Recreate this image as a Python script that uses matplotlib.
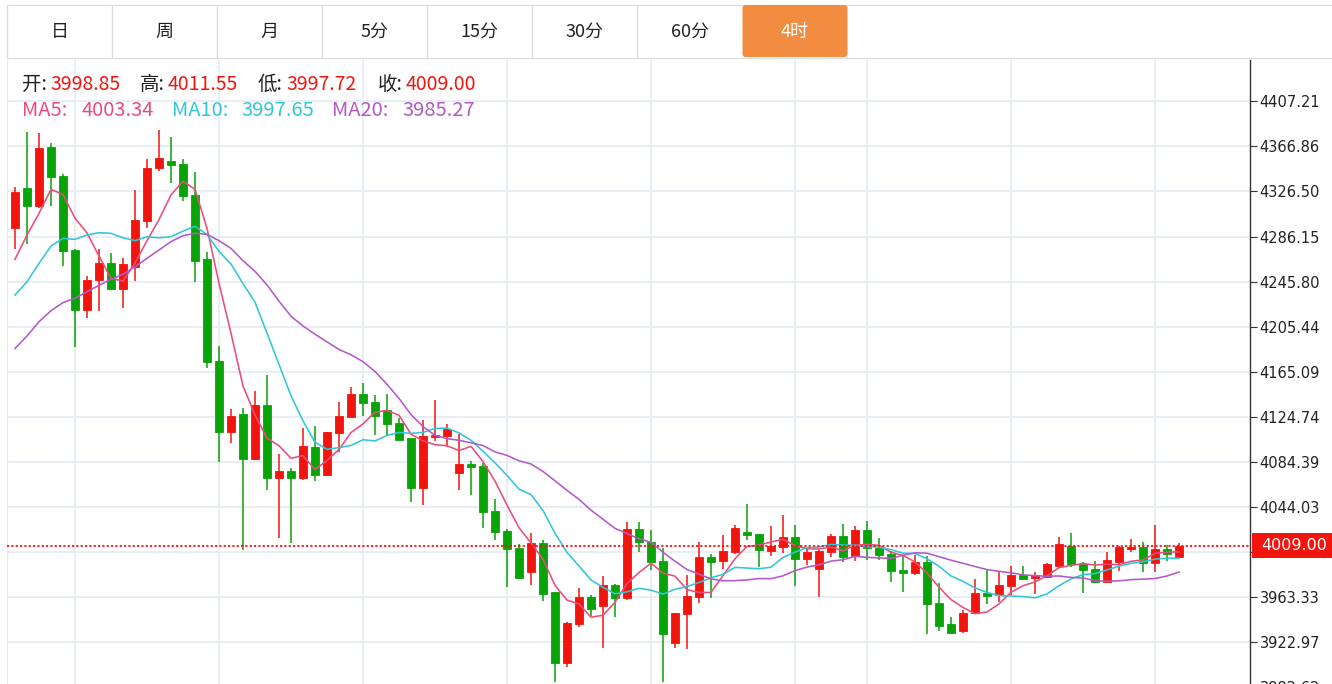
import matplotlib

matplotlib.use("Agg")
import matplotlib.pyplot as plt  # noqa: E402
import numpy as np  # noqa: E402
import pandas as pd  # noqa: E402
from matplotlib.patches import Rectangle, FancyBboxPatch  # noqa: E402

CJK = ["Noto Sans CJK SC", "DejaVu Sans"]

# period buttons (last one selected)
periods = ["日", "周", "月", "5分", "15分", "30分", "60分", "4时"]
selected = "4时"

# 4h candles
opens = [4293.5, 4329.3, 4313.5, 4366.1, 4340.4, 4274.0, 4220.3, 4247.2, 4262.7, 4239.4,
         4259.1, 4300.3, 4347.2, 4354.1, 4351.1, 4323.3, 4265.7, 4174.6, 4110.7, 4126.8,
         4086.8, 4135.2, 4069.5, 4076.3, 4069.5, 4097.5, 4072.5, 4110.4, 4124.1, 4145.3,
         4137.9, 4130.7, 4119.4, 4105.3, 4060.5, 4106.2, 4107.4, 4074.0, 4082.3, 4080.5,
         4040.5, 4022.6, 4006.8, 3985.9, 4011.8, 3967.3, 3903.7, 3938.6, 3962.9, 3955.1,
         3973.9, 3961.9, 4024.1, 4012.7, 3995.4, 3922.2, 3947.6, 3963.5, 3999.3, 3995.4,
         4003.8, 4021.7, 4019.3, 4004.7, 4008.3, 4016.6, 3997.2, 3987.9, 4003.8, 4018.1,
         3999.9, 4023.2, 4006.8, 4001.7, 3987.3, 3984.4, 3994.2, 3957.5, 3938.6, 3933.0,
         3948.5, 3966.4, 3964.9, 3973.3, 3982.9, 3979.9, 3981.4, 3990.9, 4009.1, 3992.7,
         3988.2, 3976.9, 3994.8, 4006.2, 4008.3, 3993.3, 4005.9, 3998.85]
highs = [4330.8, 4379.5, 4378.6, 4369.6, 4342.2, 4274.7, 4250.8, 4274.7, 4271.7, 4266.6,
         4327.8, 4355.6, 4381.6, 4375.6, 4355.6, 4344.3, 4272.6, 4188.3, 4131.3, 4132.8,
         4147.7, 4162.1, 4091.3, 4078.4, 4114.3, 4116.4, 4110.7, 4138.2, 4151.3, 4155.2,
         4144.1, 4145.0, 4123.2, 4105.3, 4121.7, 4139.7, 4118.2, 4109.2, 4085.0, 4082.9,
         4050.7, 4024.1, 4010.6, 4020.8, 4014.2, 3967.9, 3941.0, 3970.9, 3965.0, 3982.3,
         3974.5, 4030.1, 4030.1, 4023.2, 4006.8, 3948.5, 3982.9, 4012.1, 4001.7, 4018.7,
         4027.7, 4046.5, 4019.3, 4026.8, 4036.6, 4027.7, 4006.8, 4005.3, 4019.3, 4028.6,
         4026.8, 4031.3, 4015.7, 4004.7, 3999.9, 4000.8, 4000.2, 3975.4, 3944.9, 3951.5,
         3979.3, 3987.9, 3986.8, 3990.9, 3990.9, 3985.9, 3993.3, 4017.2, 4020.2, 3994.8,
         3995.7, 4003.8, 4008.9, 4014.8, 4012.7, 4027.7, 4009.7, 4011.55]
lows = [4274.7, 4279.4, 4312.0, 4313.5, 4259.7, 4187.4, 4213.4, 4219.7, 4239.4, 4222.4,
        4246.6, 4293.5, 4345.1, 4333.8, 4318.3, 4245.7, 4168.6, 4083.8, 4101.4, 4005.2,
        4086.0, 4059.0, 4016.3, 4011.8, 4068.0, 4067.4, 4072.5, 4092.8, 4124.1, 4125.6,
        4108.3, 4107.4, 4103.8, 4048.6, 4045.6, 4103.2, 4097.8, 4059.0, 4054.5, 4024.7,
        4014.2, 3972.4, 3979.3, 3973.9, 3959.9, 3887.3, 3900.7, 3936.0, 3946.1, 3917.7,
        3945.5, 3960.5, 4003.8, 3987.3, 3887.3, 3917.2, 3916.6, 3957.5, 3961.9, 3987.9,
        4001.7, 4014.2, 3989.7, 3999.9, 4002.9, 3973.3, 3991.8, 3963.5, 3998.7, 3994.2,
        3995.7, 3996.3, 3996.3, 3976.9, 3967.3, 3982.9, 3929.7, 3933.0, 3931.2, 3930.6,
        3948.5, 3956.9, 3958.9, 3964.9, 3979.0, 3965.5, 3980.5, 3990.9, 3989.7, 3966.4,
        3976.3, 3975.4, 3986.8, 4003.8, 3985.3, 3985.3, 3995.7, 3997.72]
closes = [4326.3, 4313.5, 4365.8, 4339.8, 4273.5, 4220.3, 4247.2, 4262.7, 4239.4, 4261.5,
          4300.9, 4347.8, 4356.8, 4350.2, 4322.8, 4264.5, 4173.4, 4110.7, 4125.6, 4086.8,
          4135.2, 4069.5, 4076.3, 4069.5, 4098.7, 4072.5, 4110.7, 4125.3, 4145.3, 4137.3,
          4125.3, 4118.2, 4103.8, 4060.5, 4107.4, 4108.3, 4113.4, 4082.3, 4079.3, 4039.0,
          4021.1, 4006.2, 3980.5, 4011.2, 3965.8, 3904.3, 3940.2, 3962.9, 3952.4, 3973.9,
          3962.6, 4024.1, 4012.1, 3994.8, 3929.7, 3948.5, 3964.0, 3999.3, 3994.8, 4004.7,
          4024.7, 4018.7, 4005.3, 4008.9, 4016.6, 3997.2, 4003.8, 4004.4, 4018.1, 3998.7,
          4023.2, 4006.8, 4000.8, 3986.8, 3984.4, 3994.2, 3956.9, 3937.5, 3931.2, 3949.1,
          3966.4, 3964.3, 3973.9, 3982.9, 3979.0, 3982.9, 3992.4, 4010.3, 3992.7, 3987.3,
          3976.3, 3996.3, 4007.7, 4008.3, 3993.3, 4005.9, 4001.7, 4009.00]

# moving averages at the start of the window (older candles are off screen)
ma5_head = [4265.7, 4287.5, 4306.9, 4328.4]
ma10_head = [4233.7, 4245.7, 4262.1, 4277.6, 4284.5, 4283.6, 4287.5, 4289.6, 4289.0]
ma20_head = [4185.9, 4197.0, 4209.8, 4219.7, 4226.9, 4230.8, 4236.7, 4242.4, 4247.8,
             4252.3, 4259.1, 4266.6, 4274.1, 4281.6, 4286.9, 4289.0, 4288.1, 4282.4, 4275.5]

# header values shown in the info line
info_ohlc = [("开:", "3998.85"), ("高:", "4011.55"), ("低:", "3997.72"), ("收:", "4009.00")]
info_ma = [("MA5", "4003.34"), ("MA10", "3997.65"), ("MA20", "3985.27")]

ytick_vals = [4407.21, 4366.86, 4326.50, 4286.15, 4245.80, 4205.44, 4165.09, 4124.74,
              4084.39, 4044.03, 4003.68, 3963.33, 3922.97, 3882.62]
vgrid_idx = [5, 17, 29, 41, 53, 65, 71, 83, 95]

RED, GREEN = "#f2150e", "#07a307"
MA_COLORS = {"MA5": "#ec4c7c", "MA10": "#30c7d9", "MA20": "#b35ac8"}
GRID = "#e4ebf2"
W, H = 1332, 684


def ma(head, n):
    s = pd.Series(closes).rolling(n).mean().to_numpy()
    s[:len(head)] = head
    return s


fig = plt.figure(figsize=(W / 100, H / 100), dpi=100)
fig.patch.set_facecolor("white")

# chart area: x 7..1250 px, y 60..700 px (runs off the bottom edge)
ax = fig.add_axes([7 / W, 1 - 700 / H, 1243 / W, 640 / H])
ax.set_xlim(-0.667, 102.917)
ax.set_ylim(3870.87, 4444.31)
for s in ("top", "bottom"):
    ax.spines[s].set_visible(False)
ax.spines["left"].set_color(GRID)
ax.spines["right"].set_color("#333333")
ax.spines["right"].set_linewidth(1.0)
ax.set_xticks([])
ax.set_yticks(ytick_vals)
ax.set_yticklabels([f"{v:.2f}" for v in ytick_vals])
ax.yaxis.tick_right()
ax.tick_params(axis="y", length=5, width=0.8, color="#333333", pad=2,
               labelsize=10.5, labelcolor="#222222")
ax.grid(axis="y", color=GRID, lw=1.2, zorder=0)
for i in vgrid_idx:
    ax.axvline(i, color=GRID, lw=1.2, zorder=0)

x = np.arange(len(closes))
o, h, l, c = map(np.array, (opens, highs, lows, closes))
col = np.where(c >= o, RED, GREEN)
ax.vlines(x, l, h, colors=col, lw=1.1, zorder=2)
ax.bar(x, np.abs(c - o), bottom=np.minimum(o, c), width=0.62, color=col,
       edgecolor=col, lw=0.6, zorder=3)

for name, n, head in (("MA5", 5, ma5_head), ("MA10", 10, ma10_head), ("MA20", 20, ma20_head)):
    ax.plot(x, ma(head, n), color=MA_COLORS[name], lw=1.15, zorder=4)

last = closes[-1]
ax.axhline(last, color=RED, lw=1.3, ls=(0, (1.2, 1.2)), zorder=5)

# overlay in pixel coordinates for toolbar, header and price tag
ov = fig.add_axes([0, 0, 1, 1], zorder=5)
ov.set_xlim(0, W)
ov.set_ylim(H, 0)
ov.axis("off")
ov.patch.set_alpha(0)

BORDER = "#dcdcdc"
ov.plot([7, W], [4.5, 4.5], color=BORDER, lw=0.9)
ov.plot([7, W], [57.5, 57.5], color=BORDER, lw=0.9)
bw = 105
for k, lab in enumerate(periods):
    x0 = 7 + k * bw
    if lab == selected:
        ov.add_patch(FancyBboxPatch((x0 + 0.5, 5), bw, 52, boxstyle="round,pad=0,rounding_size=3",
                                    fc="#f28c40", ec="none", zorder=3))
        tc = "white"
    else:
        ov.plot([x0, x0], [4.5, 57.5], color=BORDER, lw=0.9)
        tc = "#222222"
    ov.text(x0 + bw / 2, 32, lab, ha="center", va="center", fontsize=13,
            family=CJK, color=tc, zorder=4)

for (lab, val), x0 in zip(info_ohlc, [22, 140, 258, 378]):
    ov.text(x0, 90, lab, ha="left", va="baseline", fontsize=14, family=CJK, color="#222222")
    ov.text(x0 + 28, 90, val, ha="left", va="baseline", fontsize=14, family=CJK, color=RED)
for (name, val), x0, xv in zip(info_ma, [22, 172, 332], [82, 241, 402]):
    ov.text(x0, 116, f"{name}:", ha="left", va="baseline", fontsize=14.5,
            family=CJK, color=MA_COLORS[name])
    ov.text(xv, 116, val, ha="left", va="baseline", fontsize=14.5,
            family=CJK, color=MA_COLORS[name])

y_last = H - ax.transData.transform((0, last))[1]
ov.add_patch(Rectangle((1252, y_last - 12.5), 80, 25, fc=RED, ec="none", zorder=3))
ov.text(1261, y_last, f"{last:.2f}", ha="left", va="center", fontsize=11.5,
        color="white", zorder=4)

fig.savefig("out.png", dpi=100)
plt.close(fig)
